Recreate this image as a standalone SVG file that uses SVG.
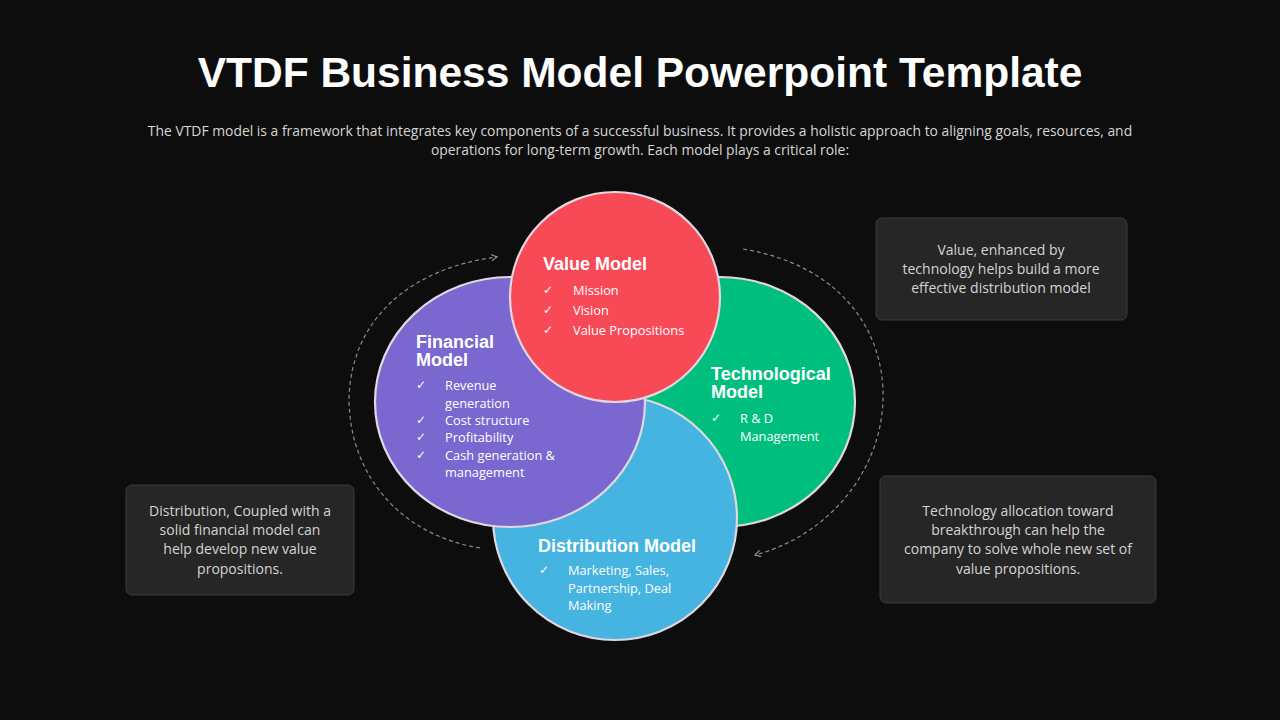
<svg xmlns="http://www.w3.org/2000/svg" width="1280" height="720" viewBox="0 0 1280 720">
  <defs>
    <marker id="arr" viewBox="0 0 10 10" refX="8" refY="5" markerWidth="8" markerHeight="8" orient="auto" markerUnits="userSpaceOnUse">
      <path d="M1,1 L8,5 L1,9" fill="none" stroke="#9a9a9a" stroke-width="1.4"/>
    </marker>
  </defs>
  <style>
    .title { font-family: "Liberation Sans", Arial, sans-serif; font-weight: bold; font-size: 42.5px; fill: #ffffff; }
    .sub { font-family: "Open Sans", "Noto Sans", sans-serif; font-size: 13.9px; fill: #d6d6d6; }
    .box { fill: #262626; stroke: #3c3c3c; stroke-width: 1; }
    .boxt { font-family: "Open Sans", "Noto Sans", sans-serif; font-size: 14px; fill: #d4d4d4; text-anchor: middle; }
    .head { font-family: "Liberation Sans", Arial, sans-serif; font-weight: bold; font-size: 18px; fill: #ffffff; }
    .item { font-family: "Open Sans", "Noto Sans", sans-serif; font-size: 12.8px; fill: #ffffff; }
    .chk { font-family: "DejaVu Sans", sans-serif; font-size: 12px; fill: #ffffff; }
    .ring { stroke: #e2d6e0; stroke-width: 2.2; }
    .dash { fill: none; stroke: #8a8a8a; stroke-width: 1.2; stroke-dasharray: 4 3; }
  </style>
  <rect width="1280" height="720" fill="#0d0d0d"/>

  <text class="title" x="640" y="87" text-anchor="middle">VTDF Business Model Powerpoint Template</text>
  <text class="sub" x="640" y="136" text-anchor="middle">The VTDF model is a framework that integrates key components of a successful business. It provides a holistic approach to aligning goals, resources, and</text>
  <text class="sub" x="640" y="155" text-anchor="middle">operations for long-term growth. Each model plays a critical role:</text>

  <g id="connectors">
    <path class="dash" d="M480,548 C400,535 350,475 349,400 C350,320 410,268 497,257" marker-end="url(#arr)"/>
    <path class="dash" d="M743,249 C840,265 885,330 883,400 C881,470 830,535 755,555" marker-end="url(#arr)"/>
  </g>

  <g id="technological">
    <ellipse class="ring" cx="720" cy="402" rx="135" ry="125" fill="#00BF7E"/>
  </g>
  <g id="distribution">
    <circle class="ring" cx="615" cy="518" r="122" fill="#45B4E0"/>
  </g>
  <g id="financial">
    <ellipse class="ring" cx="510" cy="402" rx="135" ry="125" fill="#7A67D0"/>
  </g>
  <g id="value">
    <circle class="ring" cx="615" cy="297" r="105" fill="#F84957"/>
  </g>

  <g id="value-text">
    <text class="head" x="543" y="270">Value Model</text>
    <text class="chk" x="543" y="294">✓</text><text class="item" x="573" y="295">Mission</text>
    <text class="chk" x="543" y="314">✓</text><text class="item" x="573" y="315">Vision</text>
    <text class="chk" x="543" y="334">✓</text><text class="item" x="573" y="335">Value Propositions</text>
  </g>
  <g id="financial-text">
    <text class="head" x="416" y="348">Financial</text>
    <text class="head" x="416" y="366">Model</text>
    <text class="chk" x="416" y="389">✓</text><text class="item" x="445" y="390">Revenue</text>
    <text class="item" x="445" y="408">generation</text>
    <text class="chk" x="416" y="424">✓</text><text class="item" x="445" y="425">Cost structure</text>
    <text class="chk" x="416" y="441">✓</text><text class="item" x="445" y="442">Profitability</text>
    <text class="chk" x="416" y="459">✓</text><text class="item" x="445" y="460">Cash generation &amp;</text>
    <text class="item" x="445" y="477">management</text>
  </g>
  <g id="technological-text">
    <text class="head" x="711" y="380">Technological</text>
    <text class="head" x="711" y="398">Model</text>
    <text class="chk" x="711" y="422">✓</text><text class="item" x="740" y="423">R &amp; D</text>
    <text class="item" x="740" y="441">Management</text>
  </g>
  <g id="distribution-text">
    <text class="head" x="538" y="552">Distribution Model</text>
    <text class="chk" x="539" y="574">✓</text><text class="item" x="568" y="575">Marketing, Sales,</text>
    <text class="item" x="568" y="593">Partnership, Deal</text>
    <text class="item" x="568" y="610">Making</text>
  </g>

  <g id="note-top-right">
    <rect class="box" x="876" y="218" width="251" height="102" rx="6"/>
    <text class="boxt" x="1001" y="255">Value, enhanced by</text>
    <text class="boxt" x="1001" y="274">technology helps build a more</text>
    <text class="boxt" x="1001" y="293">effective distribution model</text>
  </g>
  <g id="note-bottom-right">
    <rect class="box" x="880" y="476" width="276" height="127" rx="6"/>
    <text class="boxt" x="1018" y="516">Technology allocation toward</text>
    <text class="boxt" x="1018" y="535">breakthrough can help the</text>
    <text class="boxt" x="1018" y="554">company to solve whole new set of</text>
    <text class="boxt" x="1018" y="574">value propositions.</text>
  </g>
  <g id="note-bottom-left">
    <rect class="box" x="126" y="485" width="228" height="110" rx="6"/>
    <text class="boxt" x="240" y="516">Distribution, Coupled with a</text>
    <text class="boxt" x="240" y="535">solid financial model can</text>
    <text class="boxt" x="240" y="554">help develop new value</text>
    <text class="boxt" x="240" y="574">propositions.</text>
  </g>
</svg>
